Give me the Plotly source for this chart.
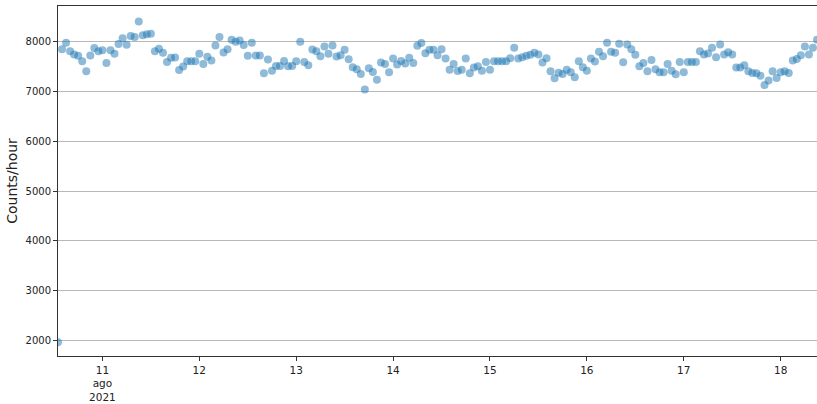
import pandas as pd
import plotly.graph_objects as go

# Hourly counter readings, starting 2021-08-10 13:00
start_time = "2021-08-10 13:00"
counts_per_hour = [
    1960, 7851, 7980, 7811, 7743, 7716, 7608, 7405, 7723, 7872,
    7811, 7831, 7574, 7831, 7757, 7953, 8068, 7939, 8115, 8095,
    8405, 8128, 8149, 8162, 7811, 7858, 7777, 7595, 7676, 7682,
    7432, 7500, 7608, 7608, 7608, 7757, 7554, 7696, 7622, 7926,
    8095, 7784, 7851, 8041, 8000, 8027, 7932, 7716, 7980, 7723,
    7723, 7365, 7642, 7419, 7514, 7514, 7615, 7507, 7514, 7608,
    8000, 7595, 7527, 7845, 7811, 7709, 7905, 7757, 7926, 7703,
    7730, 7838, 7649, 7486, 7446, 7351, 7041, 7466, 7392, 7236,
    7581, 7554, 7385, 7662, 7541, 7615, 7561, 7676, 7574, 7919,
    7973, 7770, 7838, 7838, 7730, 7850, 7662, 7439, 7554, 7412,
    7439, 7662, 7365, 7480, 7507, 7419, 7595, 7439, 7608, 7608,
    7608, 7608, 7669, 7878, 7662, 7689, 7716, 7736, 7777, 7743,
    7581, 7669, 7405, 7264, 7378, 7351, 7439, 7385, 7284, 7608,
    7486, 7419, 7662, 7601, 7797, 7709, 7980, 7797, 7777, 7959,
    7588, 7946, 7851, 7736, 7507, 7574, 7405, 7635, 7446, 7385,
    7385, 7554, 7419, 7345, 7595, 7385, 7595, 7595, 7595, 7811,
    7743, 7764, 7878, 7689, 7946, 7743, 7791, 7743, 7480, 7480,
    7527, 7405, 7372, 7365, 7318, 7128, 7223, 7405, 7270, 7385,
    7405, 7372, 7622, 7655, 7730, 7905, 7743, 7878, 8041,
]

tick_dates = ["2021-08-11", "2021-08-12", "2021-08-13", "2021-08-14",
              "2021-08-15", "2021-08-16", "2021-08-17", "2021-08-18"]
tick_labels = ["11<br>ago<br>2021", "12", "13", "14", "15", "16", "17", "18"]
y_ticks = [2000, 3000, 4000, 5000, 6000, 7000, 8000]

times = pd.date_range(start_time, periods=len(counts_per_hour), freq="h")

fig = go.Figure(
    go.Scatter(
        x=times,
        y=counts_per_hour,
        mode="markers",
        marker=dict(size=8, color="rgba(31,119,180,0.5)", line=dict(width=0)),
        cliponaxis=True,
        showlegend=False,
    )
)

fig.update_layout(
    width=817,
    height=404,
    margin=dict(l=58, r=0, t=6, b=48),
    paper_bgcolor="white",
    plot_bgcolor="white",
    font=dict(family="DejaVu Sans", size=10, color="#222"),
)

fig.update_xaxes(
    range=[times[0], times[-1]],
    tickvals=pd.to_datetime(tick_dates),
    ticktext=tick_labels,
    showgrid=False,
    zeroline=False,
    showline=True,
    linecolor="#333",
    linewidth=1,
    mirror=True,
    ticks="outside",
    ticklen=4,
    tickcolor="#333",
    tickfont=dict(size=10.5),
)

fig.update_yaxes(
    range=[1684, 8718],
    tickvals=y_ticks,
    showgrid=True,
    gridcolor="#b8b8b8",
    gridwidth=1,
    zeroline=False,
    showline=True,
    linecolor="#333",
    linewidth=1,
    ticks="outside",
    ticklen=4,
    tickcolor="#333",
    title=dict(text="Counts/hour", font=dict(size=14), standoff=4),
)

fig.write_html("out.html")
